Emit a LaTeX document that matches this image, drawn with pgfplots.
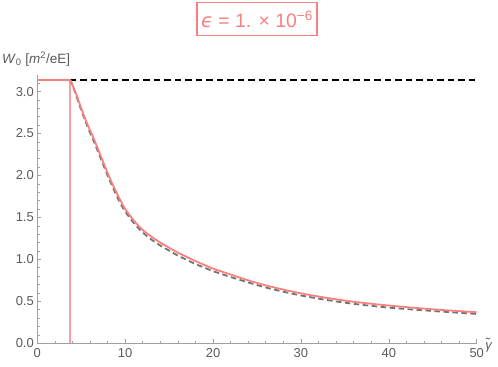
\documentclass[border=0pt]{standalone}
\usepackage{pgfplots}
\pgfplotsset{compat=1.18}
\usepackage{fontspec}
\setmainfont{Liberation Sans}
\newfontfamily\dejavu{DejaVu Sans}
\definecolor{pinkc}{RGB}{250,128,128}
\definecolor{pinkv}{RGB}{252,160,160}
\definecolor{axgray}{RGB}{160,160,160}
\definecolor{lblgray}{RGB}{90,90,90}
\definecolor{dgray}{RGB}{115,115,115}
\begin{document}
\begin{tikzpicture}
\useasboundingbox (-37.3bp,-23.7bp) rectangle (460.7bp,343.3bp);
\begin{axis}[
  at={(0,0)}, anchor=south west, scale only axis,
  width=439.4bp, height=268.5bp,
  xmin=0, xmax=50, ymin=0, ymax=3.2,
  axis lines=left,
  axis line style={-, draw=axgray, line width=0.7bp},
  clip=false,
  xtick={0,10,20,30,40,50},
  minor xtick={2,4,6,8,12,14,16,18,22,24,26,28,32,34,36,38,42,44,46,48},
  ytick={0,0.5,1,1.5,2,2.5,3},
  minor ytick={0.1,0.2,0.3,0.4,0.6,0.7,0.8,0.9,1.1,1.2,1.3,1.4,1.6,1.7,1.8,1.9,2.1,2.2,2.3,2.4,2.6,2.7,2.8,2.9,3.1},
  tick align=inside,
  major tick length=4bp, minor tick length=2.5bp,
  tick style={draw=axgray, line width=0.6bp},
  every tick label/.append style={font=\fontsize{13}{14}\selectfont, text=lblgray},
  /pgf/number format/assume math mode=true,
  yticklabel style={/pgf/number format/.cd, fixed, fixed zerofill, precision=1},
  xticklabel style={yshift=-1.5bp, /pgf/number format/.cd, fixed, precision=0},
]
\addplot[draw=pinkv, line width=1.6bp] coordinates {(3.7,0) (3.7,3.1416)};
\addplot[black, line width=1.8bp, dash pattern=on 6.5bp off 4bp] coordinates {(3.7,3.1416) (50,3.1416)};
\addplot[dgray, line width=1.8bp, dash pattern=on 5.5bp off 3.5bp, smooth, tension=0.4] coordinates {
(3.7,3.1416) (3.9,3.10) (4.2,3.02) (4.5,2.93) (5.0,2.78) (5.5,2.64) (6.0,2.51) (6.5,2.39) (7.0,2.26) (7.5,2.13) (8.0,2.00) (8.5,1.88) (9.0,1.765) (9.5,1.66) (10,1.57) (11,1.43) (12,1.32) (13,1.235) (14,1.165) (15,1.105) (16,1.045) (17,0.995) (18,0.945) (20,0.86) (22,0.79) (24,0.725) (26,0.665) (28,0.615) (30,0.57) (33,0.515) (36,0.47) (40,0.425) (45,0.385) (50,0.35)};
\addplot[pinkc, line width=1.8bp] coordinates {(0,3.1416) (3.7,3.1416)};
\addplot[pinkc, line width=1.8bp, smooth, tension=0.4] coordinates {
(3.7,3.1416) (3.85,3.12) (4.0,3.08) (4.5,2.95) (5.0,2.80) (5.5,2.66) (6.0,2.54) (6.5,2.42) (7.0,2.29) (7.5,2.16) (8.0,2.03) (8.5,1.91) (9.0,1.80) (9.5,1.695) (10,1.60) (11,1.46) (12,1.35) (13,1.27) (14,1.20) (15,1.14) (16,1.08) (17,1.03) (18,0.98) (20,0.89) (22,0.82) (24,0.75) (26,0.69) (28,0.64) (30,0.595) (33,0.54) (36,0.495) (40,0.45) (45,0.405) (50,0.37)};
\node[draw=pinkc, line width=1.2bp, text=pinkc, minimum width=120bp, minimum height=33bp, inner sep=0pt, font=\fontsize{19.5}{20}\selectfont]
  at (rel axis cs:0.5,1.2067) {{\dejavu\itshape ϵ} = 1. × 10\textsuperscript{−6}};
\node[anchor=west, text=lblgray, font=\fontsize{13.5}{15}\selectfont, inner sep=0pt, xshift=-35.3bp, yshift=-4bp]
  at (rel axis cs:0,1.074) {\textit{W}\textsubscript{0} [\textit{m}\textsuperscript{2}/eE]};
\node[text=lblgray, font=\fontsize{13}{14}\selectfont, inner sep=0pt, xshift=12bp, yshift=-2bp]
  at (rel axis cs:1,0) {\textit{γ̃}};
\end{axis}
\end{tikzpicture}
\end{document}
